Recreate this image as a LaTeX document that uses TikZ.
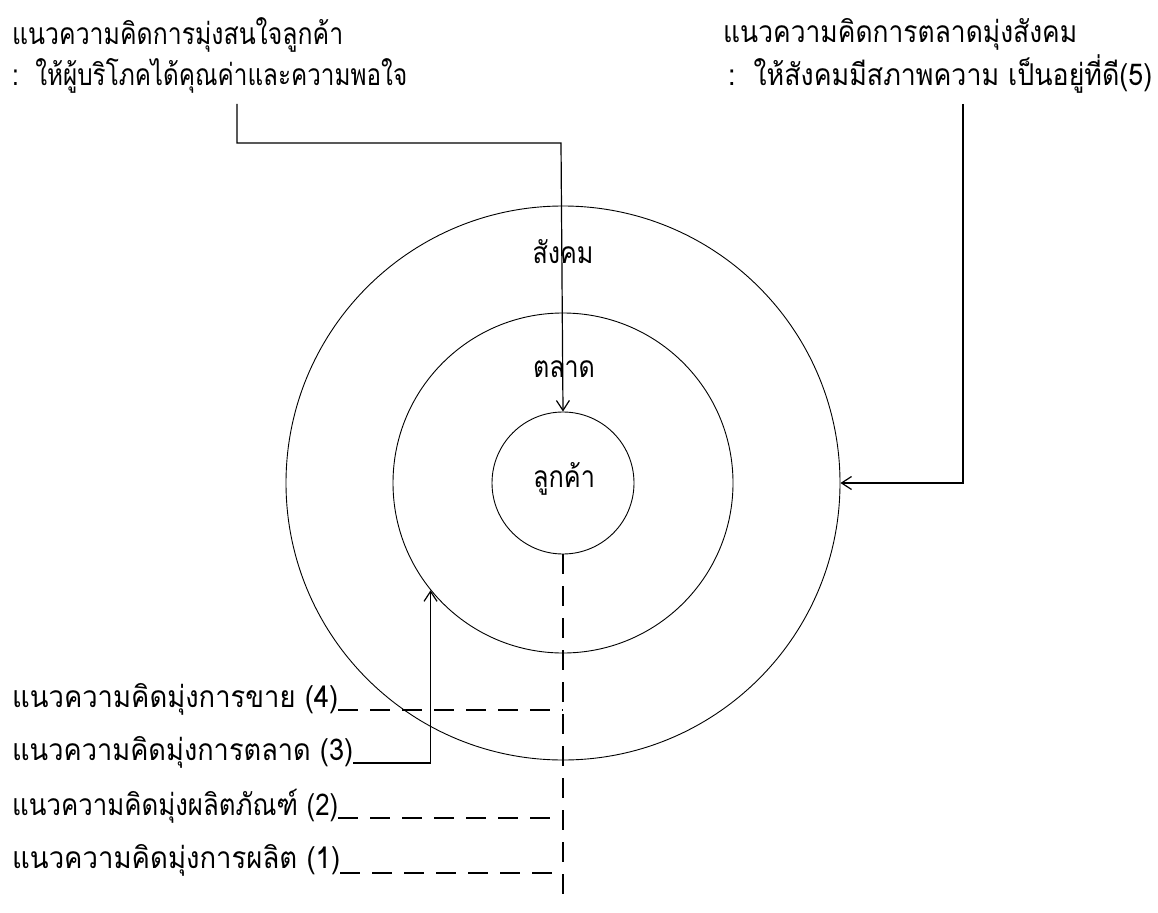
\documentclass[tikz,border=0pt]{standalone}
\usepackage{fontspec}
\usepackage{graphicx}
\newfontfamily\thai[Script=Thai]{Loma}
\usetikzlibrary{arrows.meta}
\newcommand{\fitw}[2]{\resizebox{#1}{\height}{#2}}
\begin{document}
\begin{tikzpicture}[x=1pt,y=-1pt,
  every node/.style={font=\thai\fontsize{30}{34}\selectfont, inner sep=0pt},
  lbl/.style={anchor=base west},
  ring/.style={draw, circle, line width=0.9pt},
  conn/.style={line width=1.2pt},
  arr/.style={conn, -{Straight Barb[length=10pt,width=13pt,line width=1.2pt]}},
  dsh/.style={line width=1.4pt, dash pattern=on 20pt off 12pt}]
\useasboundingbox (0,0) rectangle (1158,912);
% circles
\node[ring, minimum size=554pt] (outer) at (563,483) {};
\node[ring, minimum size=340pt] (middle) at (563,483) {};
\node[ring, minimum size=142pt] (cust) at (563,483) {};
\node[anchor=base] (custlbl) at (564,487) {\fitw{62pt}{ลูกค้า}};
\node[anchor=base] (soc) at (563,263) {\fitw{61pt}{สังคม}};
\node[anchor=base] (mkt) at (564,377) {\fitw{62pt}{ตลาด}};
% top texts
\node[lbl] (t1) at (12,45) {\fitw{331pt}{แนวความคิดการมุ่งสนใจลูกค้า}};
\node[lbl] (t2) at (12,86) {\fitw{395pt}{:\ \ ให้ผู้บริโภคได้คุณค่าและความพอใจ}};
\node[lbl] (r1) at (723,43) {\fitw{354pt}{แนวความคิดการตลาดมุ่งสังคม}};
\node[lbl] (r2) at (728,86) {\fitw{424pt}{:\ \ ให้สังคมมีสภาพความ เป็นอยู่ที่ดี(5)}};
% bottom labels
\node[lbl] (l4) at (12,707) {\fitw{326pt}{แนวความคิดมุ่งการขาย (4)}};
\node[lbl] (l3) at (12,760) {\fitw{341pt}{แนวความคิดมุ่งการตลาด (3)}};
\node[lbl] (l2) at (12,815) {\fitw{326pt}{แนวความคิดมุ่งผลิตภัณฑ์ (2)}};
\node[lbl] (l1) at (12,868) {\fitw{328pt}{แนวความคิดมุ่งการผลิต (1)}};
% connectors
\coordinate (s1) at (237,104);
\coordinate (k1) at (561,143);
\draw[arr] (s1) |- (k1) -- (cust.north);
\coordinate (s2) at (963,104);
\draw[arr] (s2) |- (outer.east);
\coordinate (m3) at (middle.219.5);
\draw[arr] ([yshift=-3pt]l3.base east) -| (m3);
\coordinate (vb) at (563,902);
\draw[dsh] (cust.south) -- (vb);
\draw[dsh] ([yshift=-3pt]l4.base east) -- ([yshift=-3pt]l4.base east -| vb);
\draw[dsh] ([yshift=-3pt]l2.base east) -- ([yshift=-3pt]l2.base east -| vb);
\draw[dsh] ([yshift=-5pt]l1.base east) -- ([yshift=-5pt]l1.base east -| vb);
\end{tikzpicture}
\end{document}
